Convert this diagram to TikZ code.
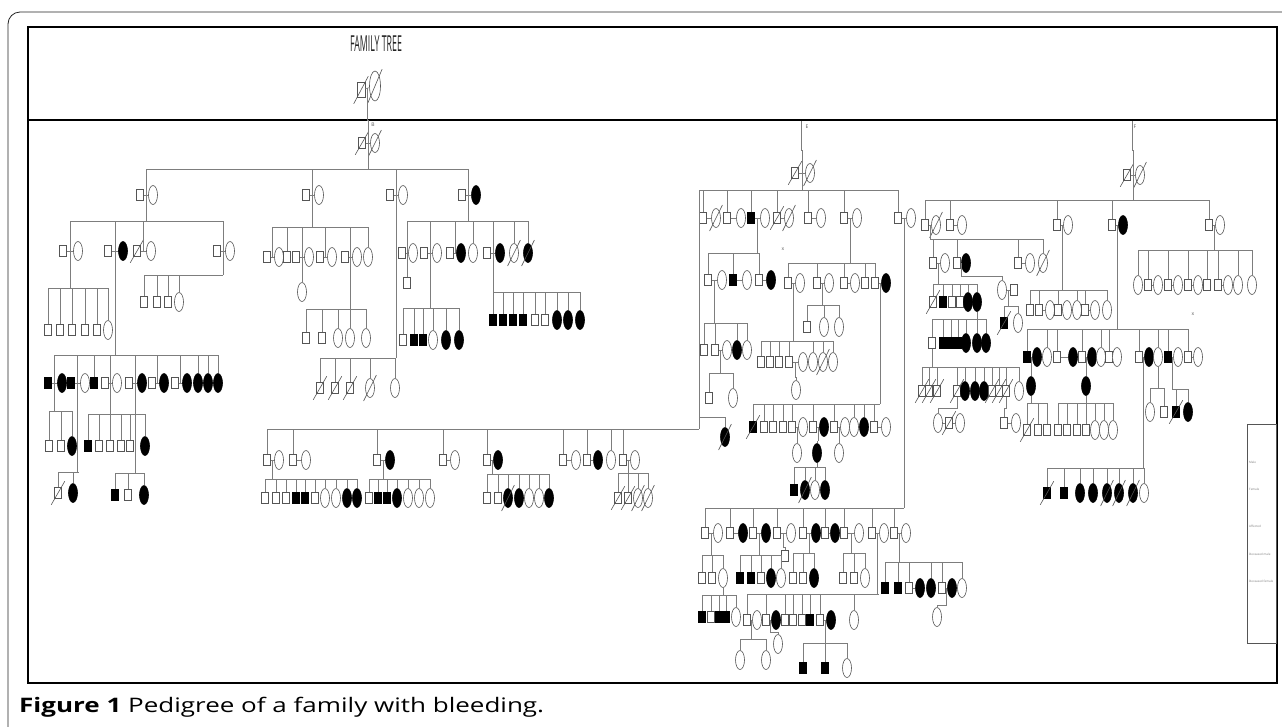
\documentclass[tikz,border=0pt]{standalone}
\usepackage{fontspec}
\usepackage{graphicx}
\setmainfont{Open Sans}
\usetikzlibrary{shapes.geometric}
\definecolor{PDline}{RGB}{125,125,125}
\definecolor{PDedge}{RGB}{85,85,85}
\definecolor{PDframe}{RGB}{35,35,35}
\tikzset{
  kinline/.style={draw=PDline,line width=.6pt},
  male/.style={rectangle,draw=PDedge,fill=white,line width=.6pt,minimum width=7pt,minimum height=11pt,inner sep=0pt},
  female/.style={ellipse,draw=PDedge,fill=white,line width=.6pt,minimum width=9pt,minimum height=19pt,inner sep=0pt},
  amale/.style={male,draw=black,fill=black},
  afemale/.style={female,draw=black,fill=black},
  dead/.style={append after command={([shift={(-3pt,-6pt)}]\tikzlastnode.south west)
     edge[kinline,draw=PDedge] ([shift={(3pt,6pt)}]\tikzlastnode.north east)}},
  dmale/.style={male,dead},
  dfemale/.style={female,dead},
  damale/.style={amale,dead},
  dafemale/.style={afemale,dead},
  tinytext/.style={font=\fontsize{5}{5}\selectfont,text=PDedge,inner sep=0pt},
  legtext/.style={font=\fontsize{3}{3}\selectfont,text=PDline,inner sep=0pt,anchor=west},
}
% one sibship: name, parent, bar point, row y, list x/style/link
% link: 0 none, 1 drop to bar, 2 spouse of previous, 3 spouse + drop
\newcommand{\kin}[5]{%
  \coordinate (#1) at (#3);
  \draw[kinline] (#2) |- (#1);
  \foreach \x/\s/\k [count=\i] in {#5} {
    \node[\s] (#1-\i) at (\x,#4) {};
    \ifnum\k=1 \draw[kinline] (#1-\i.north) |- (#1);\fi
    \ifnum\k>1 \pgfmathtruncatemacro\j{\i-1}%
      \draw[kinline] (#1-\j) -- node[coordinate] (#1m\i) {} (#1-\i);\fi
    \ifnum\k=3 \draw[kinline] (#1m\i) |- (#1);\fi
  }}

\begin{document}
\begin{tikzpicture}[x=1pt,y=-1pt]
  \useasboundingbox (0,0) rectangle (1282,726);
  \fill[white] (0,0) rectangle (1282,726);
  % frames
  \draw[PDframe,line width=.8pt,rounded corners=12pt] (1300,12) -- (8,12) -- (8,740);
  \draw[black,line width=1.3pt] (28,27) rectangle (1277,683);
  \draw[black,line width=2pt] (28,120) -- (1277,120);

  % header
  \node[font=\fontsize{22}{22}\selectfont,text=PDframe,inner sep=0pt] (title) at (376,44) {\scalebox{0.4}[1]{FAMILY TREE}};
  \node[dmale,minimum width=8pt,minimum height=15pt] (hd-1) at (361,90) {};
  \node[dfemale,minimum width=11pt,minimum height=30pt] (hd-2) at (375,86) {};
  \draw[kinline] (hd-1) -- node[coordinate] (hdm) {} (hd-2);
  \node[tinytext] (lblB) at (373,125) {B};

  % left branch
  \kin{fnd}{hdm}{368,120}{143}{362/dmale/0,375/dfemale/3}
  \kin{g2}{fndm2}{368,169}{195}{140/male/0,153/female/3,306/male/0,319/female/3,390/male/0,403/female/3,462/male/0,476/afemale/3}
  \kin{g3a}{g2m2}{146,221}{251}{63/male/0,78/female/3,108/male/0,123/afemale/3,137/dmale/0,151/female/3,217/male/0,230/female/3}
  \kin{g4a}{g3am2}{70,288}{330}{48/male/1,60/male/1,72/male/1,85/male/1,97/male/1,108/female/1}
  \kin{g4p}{g3am8}{223,275}{302}{144/male/1,157/male/1,168/male/1,179/female/1}
  \kin{g4b}{g3am4}{115,355}{383}{48/amale/0,62/afemale/3,71/amale/0,85/female/3,94/amale/1,105/male/0,117/female/3,129/male/0,142/afemale/3,152/male/0,164/afemale/3,175/male/0,187/afemale/3,198/afemale/1,208/afemale/1,218/afemale/1}
  \kin{g5a}{g4bm2}{55,411}{446}{49/male/1,61/male/1,72/afemale/1}
  \kin{g5b}{g4bm7}{111,414}{446}{88/amale/1,99/male/1,110/male/1,121/male/1,130/male/1,145/afemale/1}
  \kin{g6a}{g4bm4}{78,472}{493}{58/dmale/1,73/afemale/1}
  \kin{g6b}{g4bm9}{135,473}{495}{115/amale/1,128/male/1,144/afemale/1}
  \kin{g3b}{g2m4}{312,227}{257}{267/male/0,279/female/3,287/male/1,296/male/0,309/female/3,320/male/0,332/female/3,345/male/0,357/female/3,368/female/1}
  \kin{g4c}{g3bm5}{302,279}{292}{302/female/1}
  \kin{g4d}{g3bm9}{350,309}{338}{306/male/1,322/male/1,338/female/1,350/female/1,366/female/1}
  \kin{g5c}{g2m6}{396,358}{388}{320/dmale/1,335/dmale/1,350/dmale/1,370/dfemale/1,395/female/1}
  \kin{g3c}{g2m8}{469,221}{253}{402/male/0,413/female/3,424/male/0,437/female/3,450/male/0,461/afemale/3,473/female/1,487/male/0,500/afemale/3,514/dfemale/1,528/dafemale/1}
  \kin{g4e}{g3cm2}{407,270}{283}{407/male/1}
  \kin{g4f}{g3cm4}{430,308}{340}{403/male/1,414/amale/1,423/amale/1,433/female/1,446/afemale/1,459/afemale/1}
  \kin{g4g}{g3cm9}{493,292}{320}{493/amale/1,503/amale/1,513/amale/1,523/amale/1,535/male/1,545/male/1,557/afemale/1,568/afemale/1,580/afemale/1}

  % middle branch
  \coordinate (eTop) at (801,121);
  \node[tinytext] (lblE) at (807,127) {E};
  \kin{e1}{eTop}{802,150}{173}{795/dmale/0,810/dfemale/3}
  \kin{e2}{e1m2}{802,190}{218}{703/male/1,716/dfemale/2,727/male/1,741/female/2,751/amale/1,765/female/2,777/dmale/1,789/dfemale/2,808/male/1,821/female/2,844/male/1,857/female/2,898/male/1,911/female/2}
  \node[tinytext] (markE) at (783,249) {x};
  \coordinate (ej) at (699,190);
  \draw[kinline] (e2-1.north) |- (ej);
  \kin{e3z}{ej}{699,417}{437}{725/dafemale/1}
  \kin{e3a}{e2m6}{758,253}{280}{708/male/1,722/female/2,733/amale/1,747/female/2,759/male/1,771/afemale/2}
  \kin{e3b}{e2m12}{850,263}{283}{788/male/1,800/female/2,817/male/1,829/female/2,844/male/1,855/female/2,865/male/1,875/male/1,886/afemale/2}
  \kin{e4a}{e3bm4}{823,305}{327}{807/male/1,824/female/1,839/female/1}
  \kin{e4b}{e3am2}{715,323}{350}{704/male/1,715/male/1,727/female/2,737/afemale/1,747/female/1}
  \kin{e5a}{e4bm3}{721,373}{398}{709/male/1,733/female/1}
  \kin{e4c}{e3bm2}{794,341}{362}{761/male/1,770/male/1,779/male/1,789/male/1,803/female/2,813/female/1,823/dfemale/1,833/female/1}
  \kin{e5b}{e4cm5}{796,377}{390}{796/female/1}
  \kin{e5c}{e3bm9}{880,404}{427}{753/damale/1,764/male/1,773/male/1,783/male/1,792/male/1,803/female/2,813/male/1,824/afemale/2,834/male/1,845/female/2,854/female/1,864/afemale/1,874/male/1,886/female/2}
  \kin{e6a}{e5cm6}{797,441}{453}{797/female/1}
  \kin{e6b}{e5cm8}{818,441}{453}{817/afemale/1}
  \kin{e6c}{e5cm10}{839,441}{453}{839/female/1}
  \kin{e6d}{e6b-1}{816,467}{490}{794/amale/1,805/dafemale/1,815/female/1,825/afemale/1}
  \kin{e7}{e2m14}{904,508}{533}{705/male/1,718/female/2,730/male/1,743/afemale/2,753/male/1,766/afemale/2,777/male/1,791/female/2,803/male/1,816/afemale/2,825/male/1,835/afemale/2,844/male/1,859/female/2,872/male/1,884/female/2,894/male/1,906/female/2}
  \kin{e8x}{e7m8}{784,547}{556}{785/male/1}
  \kin{e8a}{e7m2}{711,555}{578}{702/male/1,712/male/1,723/female/1}
  \kin{e8b}{e7m6}{759,555}{578}{740/amale/1,751/amale/1,761/male/1,771/afemale/1,781/female/1}
  \kin{e8c}{e7m10}{809,553}{578}{793/male/1,803/male/1,814/afemale/1}
  \kin{e8d}{e7m14}{851,553}{578}{843/male/1,854/male/1,865/female/1}
  \kin{e8e}{e7m18}{900,562}{588}{885/amale/1,898/amale/1,909/male/1,920/afemale/2,931/afemale/1,942/male/1,952/afemale/2,962/female/1}
  \kin{e9e}{e8em7}{940,605}{617}{937/female/1}
  \kin{e9a}{e8a-3}{723,595}{617}{702/amale/1,711/male/1,719/amale/1,726/amale/1,736/female/1}
  \kin{e9b}{e7m16}{878,594}{620}{747/male/1,757/female/2,766/male/1,776/afemale/2,785/male/1,793/male/1,802/male/1,810/amale/1,820/male/1,831/afemale/2,854/female/1}
  \kin{e10a}{e9bm4}{771,632}{644}{778/female/1}
  \kin{e10b}{e9bm2}{751,639}{660}{740/female/1,766/female/1}
  \kin{e10c}{e9bm10}{825,643}{668}{803/amale/1,825/amale/1,847/female/1}

  % long line joining the left branch
  \kin{low}{ej}{699,429}{460}{267/male/1,279/female/2,293/male/1,306/female/2,377/male/1,390/afemale/2,443/male/1,455/female/2,487/male/1,498/afemale/2,563/male/1,576/female/2,587/male/1,598/afemale/2,611/female/1,623/male/1,635/female/2}
  \kin{g7a}{lowm2}{273,479}{498}{265/male/1,276/male/1,286/male/1,296/amale/1,305/amale/1,315/male/1,325/female/1,336/female/1,347/afemale/1,357/afemale/1}
  \kin{g7b}{lowm6}{383,479}{498}{369/male/1,378/amale/1,387/amale/1,397/afemale/1,408/female/1,419/female/1,430/female/1}
  \kin{g7c}{lowm10}{492,474}{498}{487/male/1,498/male/1,508/dafemale/1,519/afemale/1,529/female/1,539/female/1,549/afemale/1}
  \kin{g7d}{lowm17}{629,473}{498}{618/dmale/1,628/dmale/1,638/dfemale/1,648/dfemale/1}

  % right branch
  \coordinate (fTop) at (1132,121);
  \node[tinytext] (lblF) at (1135,127) {F};
  \kin{f1}{fTop}{1133,150}{175}{1127/dmale/0,1140/dfemale/3}
  \kin{f2}{f1m2}{1133,200}{225}{925/male/1,936/dfemale/2,950/male/1,962/female/2,1057/male/1,1068/female/2,1112/male/1,1123/afemale/2,1209/male/1,1220/female/2}
  \kin{f3a}{f2m2}{930,239}{263}{933/male/1,945/female/2,957/male/1,966/afemale/2,1018/male/1,1030/female/2,1043/dfemale/1}
  \kin{f4a}{f3am2}{939,284}{302}{933/dmale/1,943/amale/1,952/male/1,960/male/1,968/afemale/1,977/afemale/1}
  \kin{f3b}{f3am4}{980,276}{290}{1002/female/1,1014/male/2}
  \kin{f4b}{f3bm2}{1008,306}{323}{1004/damale/1,1018/female/1}
  \kin{f3c}{f2m6}{1062,290}{310}{1030/male/1,1039/male/1,1050/female/2,1058/male/1,1067/female/2,1077/female/1,1085/male/1,1095/female/2,1107/female/1}
  \kin{f3d}{f2m10}{1214,250}{285}{1138/female/1,1148/male/1,1158/female/2,1168/male/1,1178/female/2,1188/male/1,1198/female/2,1207/male/1,1218/male/1,1228/female/2,1238/female/1,1252/female/1}
  \node[tinytext] (markF) at (1193,314) {x};
  \kin{f3e}{f2m8}{1117,329}{357}{1027/amale/1,1037/afemale/2,1047/female/1,1057/male/1,1073/afemale/2,1082/male/1,1092/afemale/2,1101/female/1,1109/male/1,1117/female/2,1139/male/1,1149/afemale/2,1158/female/1,1168/amale/1,1178/female/2,1188/male/1,1198/female/2}
  \kin{f4c}{f3em2}{1031,371}{386}{1031/afemale/1}
  \kin{f5a}{f4c-1}{1031,403}{430}{1027/dmale/1,1038/male/1,1047/male/1}
  \kin{f4d}{f3em7}{1086,371}{386}{1086/afemale/1}
  \kin{f5b}{f4d-1}{1086,403}{430}{1058/male/1,1067/male/1,1077/male/1,1086/male/1,1095/female/1,1104/female/1,1113/female/1}
  \kin{f4e}{f3e-13}{1157,388}{412}{1150/female/1,1164/male/1}
  \kin{f4f}{f3em15}{1181,389}{412}{1176/damale/1,1188/afemale/1}
  \kin{f4g}{f3em12}{1144,468}{493}{1047/damale/1,1064/amale/1,1080/afemale/1,1093/afemale/1,1107/dafemale/1,1119/dafemale/1,1133/dafemale/1,1144/female/1}
  \kin{f5d}{f4a-6}{977,319}{343}{932/male/1,943/amale/1,951/amale/1,958/amale/1,966/afemale/1,977/afemale/1,986/afemale/1}
  \kin{f6c}{f5d-1}{932,367}{391}{922/dmale/1,929/dmale/1,937/dmale/1,957/dmale/1,965/afemale/1,975/afemale/1,984/afemale/1,992/dmale/1,999/dmale/1,1006/dmale/1,1019/female/1}
  \kin{f7a}{f6c-4}{949,408}{423}{938/female/1,949/dmale/2,960/female/2}
  \kin{f7b}{f6c-10}{1004,408}{423}{1004/male/1,1016/female/2}

  % legend
  \node[draw=PDedge,line width=.6pt,minimum width=29pt,minimum height=219pt,inner sep=0pt,anchor=north west] (legend) at (1247,424) {};
  \foreach \t/\yy [count=\n] in {Male/462,Female/489,Affected/526,Deceased male/554,Deceased female/581}
    \node[legtext] (leg-\n) at (1249,\yy) {\t};

  % caption
  \node[anchor=west,inner sep=0pt,font=\fontsize{20}{20}\selectfont,text=black] (caption) at (19,707)
    {\scalebox{1.3}[1]{\textbf{Figure 1} Pedigree of a family with bleeding.}};
\end{tikzpicture}
\end{document}
